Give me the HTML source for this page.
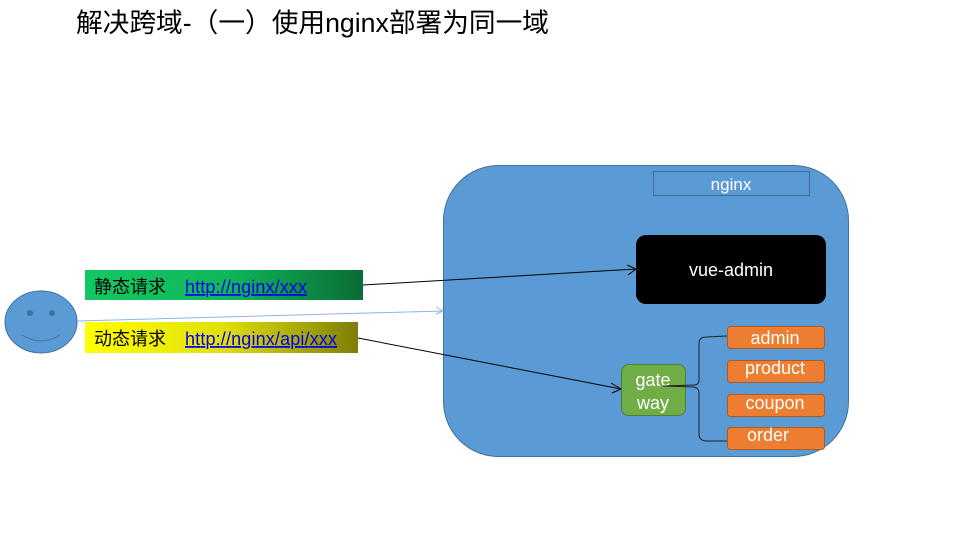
<!DOCTYPE html>
<html><head><meta charset="utf-8"><style>
body{margin:0;background:#fff;width:960px;height:540px;overflow:hidden}
svg{display:block}
text{font-family:"Liberation Sans","Noto Sans CJK SC",sans-serif}
</style></head><body>
<svg width="960" height="540" viewBox="0 0 960 540">
<defs>
<linearGradient id="g1" x1="0" x2="1"><stop offset="0" stop-color="#12c863"/><stop offset="0.5" stop-color="#10b85a"/><stop offset="1" stop-color="#0a6d36"/></linearGradient>
<linearGradient id="g2" x1="0" x2="1"><stop offset="0" stop-color="#ffff00"/><stop offset="0.5" stop-color="#e2e00a"/><stop offset="1" stop-color="#7e7e08"/></linearGradient>
</defs>
<text x="76" y="32" font-size="26.7" fill="#000">解决跨域-（一）使用nginx部署为同一域</text>
<rect x="443.5" y="165.5" width="405" height="291" rx="55" fill="#5b9bd5" stroke="#41719c"/>
<rect x="653.5" y="171.5" width="156" height="24" fill="none" stroke="#41719c" stroke-width="1.2"/>
<text x="731" y="190" font-size="17" fill="#fff" text-anchor="middle">nginx</text>
<rect x="636" y="235" width="190" height="69" rx="10" fill="#000"/>
<text x="731" y="276" font-size="18" fill="#fff" text-anchor="middle">vue-admin</text>
<rect x="85" y="270" width="278" height="30" fill="url(#g1)"/>
<text x="94" y="293" font-size="18" fill="#000">静态请求</text>
<text x="185" y="293" font-size="18" fill="#0000ee" text-decoration="underline" textLength="122">http://nginx/xxx</text>
<rect x="85" y="322" width="273" height="31" fill="url(#g2)"/>
<text x="94" y="345" font-size="18" fill="#000">动态请求</text>
<text x="185" y="345" font-size="18" fill="#0000ee" text-decoration="underline" textLength="152">http://nginx/api/xxx</text>
<ellipse cx="41" cy="322" rx="36" ry="31" fill="#5b9bd5" stroke="#41719c"/>
<circle cx="30" cy="313" r="3" fill="#41719c"/><circle cx="52" cy="313" r="3" fill="#41719c"/>
<path d="M22 335 Q41 347 60 335" fill="none" stroke="#41719c"/>
<line x1="77" y1="321" x2="443" y2="311" stroke="#8fb4e3"/>
<path d="M436 307 L443 311 L436 314" fill="none" stroke="#8fb4e3"/>
<line x1="363" y1="285" x2="636" y2="269" stroke="#000"/>
<path d="M627 265 L636 269 L628 275" fill="none" stroke="#000"/>
<line x1="358" y1="338" x2="621" y2="389" stroke="#000"/>
<path d="M611 383 L621 389 L612 393" fill="none" stroke="#000"/>
<rect x="621.5" y="364.5" width="64" height="51" rx="7" fill="#70ad47" stroke="#507e32"/>
<text x="653" y="386" font-size="18" fill="#fff" text-anchor="middle">gate</text>
<text x="653" y="409" font-size="18" fill="#fff" text-anchor="middle">way</text>
<path d="M663 386 L694 385 Q699 385 699 380 L699 343 Q699 337 707 337 L727 336" fill="none" stroke="#222"/>
<path d="M663 386 L694 387 Q699 388 699 393 L699 434 Q699 441 707 441 L727 441" fill="none" stroke="#222"/>
<g fill="#ed7d31" stroke="#ae5a21">
<rect x="727.5" y="326.5" width="97" height="22" rx="3"/>
<rect x="727.5" y="360.5" width="97" height="22" rx="3"/>
<rect x="727.5" y="394.5" width="97" height="22" rx="3"/>
<rect x="727.5" y="427.5" width="97" height="22" rx="3"/>
</g>
<g font-size="18" fill="#fff" text-anchor="middle">
<text x="775" y="344">admin</text>
<text x="775" y="374">product</text>
<text x="775" y="409">coupon</text>
<text x="768" y="441">order</text>
</g>
</svg>
</body></html>
